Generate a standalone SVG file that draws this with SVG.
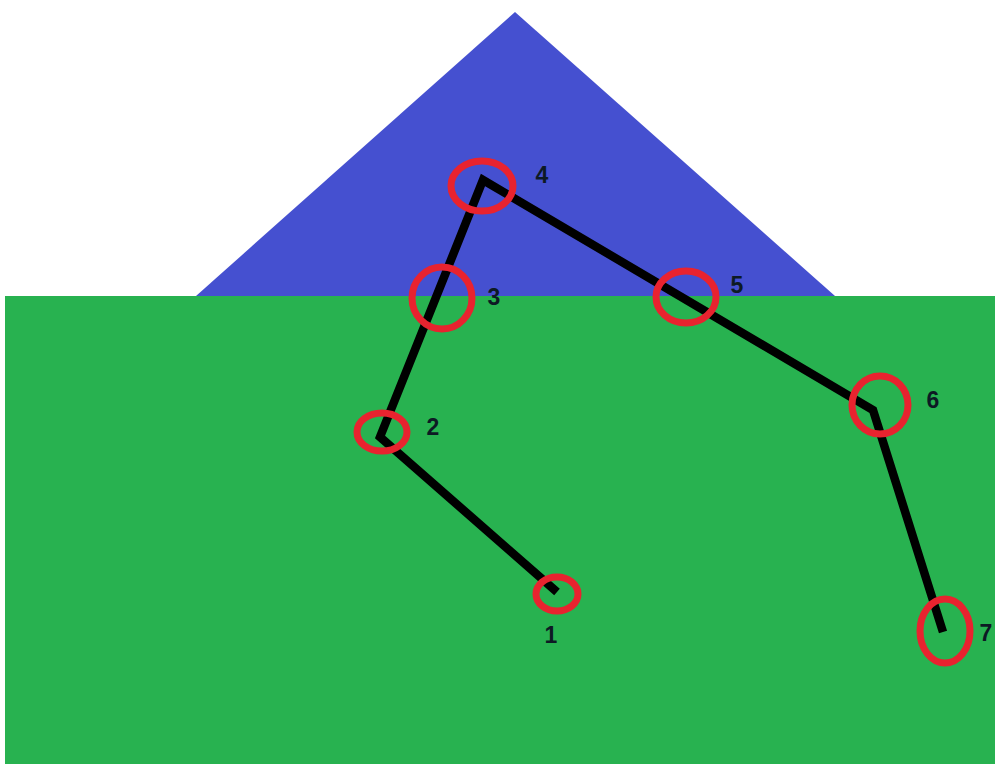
<svg xmlns="http://www.w3.org/2000/svg" width="995" height="764" viewBox="0 0 995 764">
<style>
.ring{fill:none;stroke:#e8232f;stroke-width:7}
.lbl{font-family:"Liberation Sans",Arial,sans-serif;font-size:23px;font-weight:bold;fill:#0d1a24;text-anchor:middle}
</style>
<rect width="995" height="764" fill="#ffffff"/>
<polygon points="515,12 835,296 196,296" fill="#4550d0"/>
<rect x="5" y="296" width="990" height="468" fill="#28b250"/>
<g id="connectors">
<polyline points="557,592 380,437 483,180 873,410 943,632" fill="none" stroke="#000" stroke-width="8.5" stroke-linejoin="miter"/>
</g>
<g id="n1"><ellipse class="ring" cx="557" cy="594" rx="21" ry="17"/><text class="lbl" x="551" y="643">1</text></g>
<g id="n2"><ellipse class="ring" cx="382" cy="432" rx="25" ry="19"/><text class="lbl" x="433" y="435">2</text></g>
<g id="n3"><ellipse class="ring" cx="442" cy="298" rx="30" ry="31"/><text class="lbl" x="494" y="305">3</text></g>
<g id="n4"><ellipse class="ring" cx="482" cy="186" rx="31" ry="25"/><text class="lbl" x="542" y="183">4</text></g>
<g id="n5"><ellipse class="ring" cx="686" cy="297" rx="30" ry="26"/><text class="lbl" x="737" y="293">5</text></g>
<g id="n6"><ellipse class="ring" cx="880" cy="405" rx="28" ry="29"/><text class="lbl" x="933" y="408">6</text></g>
<g id="n7"><ellipse class="ring" cx="945" cy="631" rx="25" ry="32"/><text class="lbl" x="986" y="641">7</text></g>
</svg>
